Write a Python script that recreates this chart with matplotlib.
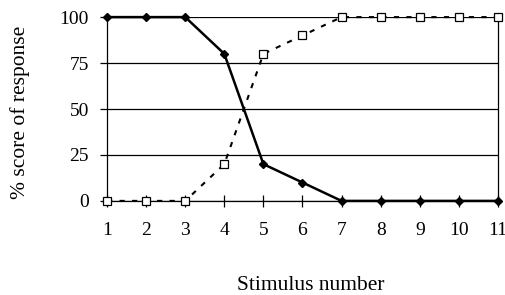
import matplotlib.pyplot as plt

stimulus = [1, 2, 3, 4, 5, 6, 7, 8, 9, 10, 11]
solid_series = [100, 100, 100, 80, 20, 10, 0, 0, 0, 0, 0]
dashed_series = [0, 0, 0, 20, 80, 90, 100, 100, 100, 100, 100]

plt.rcParams['font.family'] = ['Liberation Serif', 'DejaVu Serif']

fig = plt.figure(figsize=(5.05, 2.95), dpi=100)
ax = fig.add_axes([0.212, 0.319, 0.774, 0.623])

ax.plot(stimulus, dashed_series, linestyle=(0, (2.5, 3.5)), color='black', linewidth=1.5,
        marker='s', markersize=5.5, markerfacecolor='white', markeredgecolor='black',
        markeredgewidth=0.9, zorder=3, clip_on=False)
ax.plot(stimulus, solid_series, linestyle='-', color='black', linewidth=1.8,
        marker='D', markersize=4.5, markerfacecolor='black', zorder=4, clip_on=False)

ax.set_xlim(1, 11)
ax.set_ylim(0, 100)
ax.set_xticks(stimulus)
ax.set_yticks([0, 25, 50, 75, 100])
ax.grid(axis='y', color='black', linewidth=0.9)
ax.set_axisbelow(True)

for s in ax.spines.values():
    s.set_linewidth(0.9)
ax.spines['top'].set_visible(False)

ax.tick_params(axis='x', direction='inout', length=8, width=0.9, labelsize=14, pad=11)
ax.tick_params(axis='y', direction='out', length=5, width=0.9, labelsize=14, pad=8)

ax.set_xlabel('Stimulus number', fontsize=15.5, va='center')
ax.set_ylabel('% score of response', fontsize=15.5, va='center')
ax.xaxis.set_label_coords(0.52, -0.46)
ax.yaxis.set_label_coords(-0.222, 0.48)

fig.savefig('out.png', dpi=100)
